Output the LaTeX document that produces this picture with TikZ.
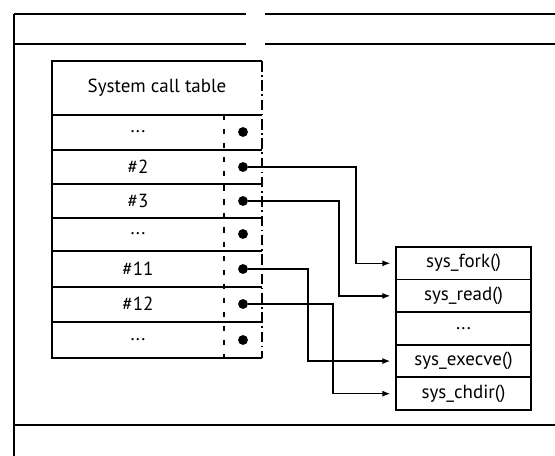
\documentclass[tikz,border=0pt]{standalone}
\usepackage{fontspec}
\setmainfont{PT Sans}
\usetikzlibrary{arrows.meta,positioning}

\begin{document}
\begin{tikzpicture}[x=0.02cm,y=-0.02cm,every node/.style={font=\fontsize{10.8}{13}\selectfont},
  frame/.style={line width=1.2pt},
  grid/.style={line width=1pt},
  dot/.style={circle,fill,inner sep=0pt,minimum size=5.6pt},
  fn/.style={draw,line width=1pt,outer sep=0pt,minimum width=2.7cm,minimum height=0.652cm,inner sep=0pt},
  link/.style={line width=0.8pt,-{Latex[length=4.5pt,width=3.4pt]},shorten >=3.2pt}]
  \useasboundingbox (0,0) rectangle (555,456);
  \draw[frame] (14,14) -- (246,14) (265,14) -- (555,14) (14,44) -- (246,44) (265,44) -- (555,44);
  \draw[frame] (14,14) -- (14,456) (14,425) -- (555,425);
  \draw[grid] (262,61) -- (52,61) -- (52,358) -- (262,358);
  \draw[grid, dash pattern=on 6pt off 2pt on 1pt off 2pt] (262,61) -- (262,358);
  \draw[grid, dash pattern=on 3pt off 5pt] (224,115) -- (224,358);
  \foreach \y in {115,150,184,218,251,287,322} \draw[grid] (52,\y) -- (262,\y);
  \node (title) at (157,88) {System call table};
  \foreach \y/\t/\n in {132/{...}/a,167/{\#2}/2,201/{\#3}/3,234/{...}/b,269/{\#11}/11,304/{\#12}/12,340/{...}/c} {
    \node (id\n) at (138,\y) {\t};
    \node[dot] (p\n) at (243,\y) {};
  }
  \node[fn] (fork) at (463.5,263.3) {sys\_fork()};
  \node[fn, below=0pt of fork] (read) {sys\_read()};
  \node[fn, below=0pt of read] (rest) {...};
  \node[fn, below=0pt of rest] (execve) {sys\_execve()};
  \node[fn, below=0pt of execve] (chdir) {sys\_chdir()};
  \coordinate (k2) at (356,0);
  \coordinate (k3) at (339,0);
  \coordinate (k11) at (308,0);
  \coordinate (k12) at (333,0);
  \draw[link] (p2) -| (k2 |- fork) -- (fork);
  \draw[link] (p3) -| (k3 |- read) -- (read);
  \draw[link] (p11) -| (k11 |- execve) -- (execve);
  \draw[link] (p12) -| (k12 |- chdir) -- (chdir);
\end{tikzpicture}
\end{document}
